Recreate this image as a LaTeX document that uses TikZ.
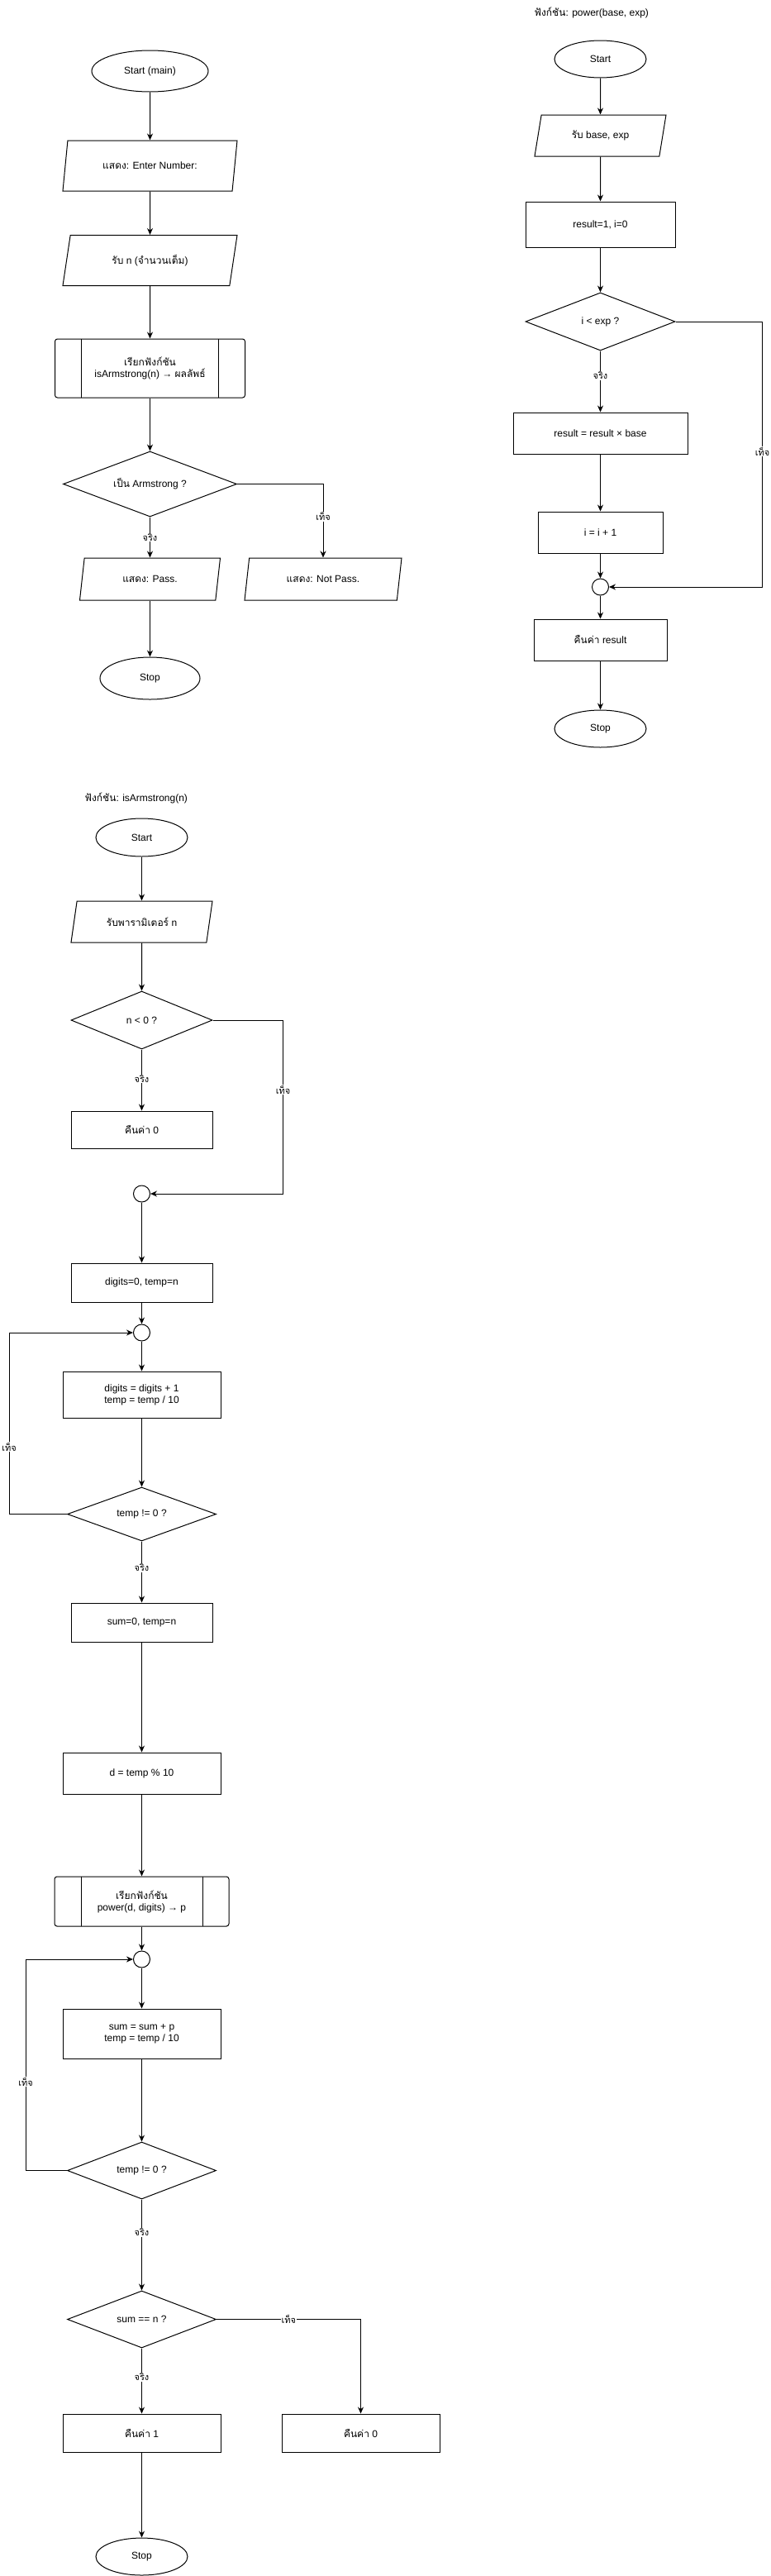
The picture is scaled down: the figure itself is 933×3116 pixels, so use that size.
\documentclass[tikz,border=0pt]{standalone}
\usepackage{fontspec}
\setmainfont{Liberation Sans}
\newfontfamily\thaifont[Script=Thai]{Loma}
\usepackage{tikz}
\usetikzlibrary{arrows.meta,shapes.geometric}
\newcommand{\tht}[1]{{\thaifont #1}}

\begin{document}
\begin{tikzpicture}[x=1pt,y=-1pt,
  every node/.style={font=\fontsize{12}{14}\selectfont, align=center},
  terminal/.style={draw, ellipse, line width=1pt, minimum width=111pt, minimum height=45pt, inner sep=0pt},
  iobox/.style={draw, trapezium, trapezium left angle=56, trapezium right angle=124,
    trapezium stretches body, line width=1pt, minimum height=50pt, inner sep=0pt},
  procbox/.style={draw, rectangle, line width=1pt, inner sep=0pt},
  callbox/.style={procbox, rounded corners=3pt, path picture={
    \draw[line width=1pt] ([xshift=32pt]path picture bounding box.north west) -- ([xshift=32pt]path picture bounding box.south west)
      ([xshift=-32pt]path picture bounding box.north east) -- ([xshift=-32pt]path picture bounding box.south east);}},
  decision/.style={draw, diamond, aspect=2.6, line width=1pt, inner sep=0pt},
  joint/.style={draw, circle, line width=1pt, minimum size=20pt, inner sep=0pt},
  arr/.style={line width=1pt, -{Stealth[length=8pt,width=7pt]}},
  lbl/.style={fill=white, font=\fontsize{11}{13}\selectfont\thaifont, inner sep=1pt}]

\useasboundingbox (0,0) rectangle (933,3116);

% main
\node[terminal, minimum width=141pt, minimum height=50pt] (mstart) at (181.5,86) {Start (main)};
\node[iobox, minimum width=211pt, minimum height=61pt] (mshow) at (181.5,200.5) {\tht{แสดง}: Enter Number:};
\node[iobox, minimum width=211pt, minimum height=61pt] (mread) at (181.5,315) {\tht{รับ} n (\tht{จำนวนเต็ม})};
\node[callbox, minimum width=230pt, minimum height=71pt] (mcall) at (181.5,445.5) {\tht{เรียกฟังก์ชัน}\\isArmstrong(n) → \tht{ผลลัพธ์}};
\node[decision, minimum width=210pt, minimum height=79pt] (misarm) at (181.5,585.5) {\tht{เป็น} Armstrong ?};
\node[iobox, minimum width=170pt, minimum height=51pt] (mpass) at (181.5,700.5) {\tht{แสดง}: Pass.};
\node[iobox, minimum width=190pt, minimum height=51pt] (mfail) at (391,700.5) {\tht{แสดง}: Not Pass.};
\node[terminal, minimum width=121pt, minimum height=51pt] (mstop) at (181.5,820.5) {Stop};

\draw[arr] (mstart) -- (mshow);
\draw[arr] (mshow) -- (mread);
\draw[arr] (mread) -- (mcall);
\draw[arr] (mcall) -- (misarm);
\draw[arr] (misarm) -- (mpass) node[lbl, pos=0.5] {จริง};
\draw[arr] (misarm.east) -| (mfail.north) node[lbl, pos=0.72] {เท็จ};
\draw[arr] (mpass) -- (mstop);

% power(base, exp)
\node[anchor=west] (ptitle) at (643,15) {\tht{ฟังก์ชัน}: power(base, exp)};
\node[terminal] (pstart) at (726.5,71.5) {Start};
\node[iobox, minimum width=159pt] (pread) at (726.5,164) {\tht{รับ} base, exp};
\node[procbox, minimum width=181pt, minimum height=55pt] (pinit) at (726.5,271.5) {result=1, i=0};
\node[decision, minimum width=181pt, minimum height=70pt] (pcheck) at (726.5,389) {i < exp ?};
\node[procbox, minimum width=211pt, minimum height=50pt] (pmul) at (726.5,524) {result = result × base};
\node[procbox, minimum width=151pt, minimum height=50pt] (pinc) at (726.5,644) {i = i + 1};
\node[joint] (pj) at (726.5,710) {};
\node[procbox, minimum width=161pt, minimum height=50pt] (pret) at (726.5,774) {\tht{คืนค่า} result};
\node[terminal] (pstop) at (726.5,881.5) {Stop};

\draw[arr] (pstart) -- (pread);
\draw[arr] (pread) -- (pinit);
\draw[arr] (pinit) -- (pcheck);
\draw[arr] (pcheck) -- (pmul) node[lbl, pos=0.4] {จริง};
\draw[arr] (pmul) -- (pinc);
\draw[arr] (pinc) -- (pj);
\draw[arr] (pcheck.east) -- ++(105,0) |- (pj.east) node[lbl, pos=0.245] {เท็จ};
\draw[arr] (pj) -- (pret);
\draw[arr] (pret) -- (pstop);

% isArmstrong(n)
\node[anchor=west] (atitle) at (99,965) {\tht{ฟังก์ชัน}: isArmstrong(n)};
\node[terminal, minimum height=46pt] (astart) at (171.5,1013) {Start};
\node[iobox, minimum width=171pt] (aparam) at (171.5,1115) {\tht{รับพารามิเตอร์} n};
\node[decision, minimum width=171pt, minimum height=70pt] (aneg) at (171.5,1234) {n < 0 ?};
\node[procbox, minimum width=171pt, minimum height=45pt] (aret0) at (171.5,1366.5) {\tht{คืนค่า} 0};
\node[joint] (aj1) at (171.5,1444) {};
\node[procbox, minimum width=171pt, minimum height=47pt] (adig0) at (171.5,1551.5) {digits=0, temp=n};
\node[joint] (aj2) at (171.5,1612) {};
\node[procbox, minimum width=191pt, minimum height=56pt] (acount) at (171.5,1687) {digits = digits + 1\\temp = temp / 10};
\node[decision, minimum width=180pt, minimum height=65pt] (aloop1) at (171.5,1831.5) {temp != 0 ?};
\node[procbox, minimum width=171pt, minimum height=47pt] (asum0) at (171.5,1962.5) {sum=0, temp=n};
\node[procbox, minimum width=191pt, minimum height=50pt] (adigit) at (171.5,2145) {d = temp \% 10};
\node[callbox, minimum width=211pt, minimum height=60pt] (acall) at (171.5,2300) {\tht{เรียกฟังก์ชัน}\\power(d, digits) → p};
\node[joint] (aj3) at (171.5,2370) {};
\node[procbox, minimum width=191pt, minimum height=60pt] (aacc) at (171.5,2460) {sum = sum + p\\temp = temp / 10};
\node[decision, minimum width=180pt, minimum height=69pt] (aloop2) at (171.5,2625.5) {temp != 0 ?};
\node[decision, minimum width=180pt, minimum height=69pt] (acheck) at (171.5,2805.5) {sum == n ?};
\node[procbox, minimum width=191pt, minimum height=46pt] (aret1) at (171.5,2943) {\tht{คืนค่า} 1};
\node[procbox, minimum width=191pt, minimum height=46pt] (aretz) at (436.5,2943) {\tht{คืนค่า} 0};
\node[terminal] (astop) at (171.5,3092.5) {Stop};

\draw[arr] (astart) -- (aparam);
\draw[arr] (aparam) -- (aneg);
\draw[arr] (aneg) -- (aret0) node[lbl, pos=0.48] {จริง};
\draw[arr] (aneg.east) -- ++(85,0) |- (aj1.east) node[lbl, pos=0.2] {เท็จ};
\draw[arr] (aj1) -- (adig0);
\draw[arr] (adig0) -- (aj2);
\draw[arr] (aj2) -- (acount);
\draw[arr] (acount) -- (aloop1);
\draw[arr] (aloop1.west) -- ++(-70,0) |- (aj2.west) node[lbl, pos=0.185] {เท็จ};
\draw[arr] (aloop1) -- (asum0) node[lbl, pos=0.43] {จริง};
\draw[arr] (asum0) -- (adigit);
\draw[arr] (adigit) -- (acall);
\draw[arr] (acall) -- (aj3);
\draw[arr] (aj3) -- (aacc);
\draw[arr] (aacc) -- (aloop2);
\draw[arr] (aloop2.west) -- ++(-50,0) |- (aj3.west) node[lbl, pos=0.21] {เท็จ};
\draw[arr] (aloop2) -- (acheck) node[lbl, pos=0.36] {จริง};
\draw[arr] (acheck) -- (aret1) node[lbl, pos=0.44] {จริง};
\draw[arr] (acheck.east) -| (aretz.north) node[lbl, pos=0.25] {เท็จ};
\draw[arr] (aret1) -- (astop);

\end{tikzpicture}
\end{document}
